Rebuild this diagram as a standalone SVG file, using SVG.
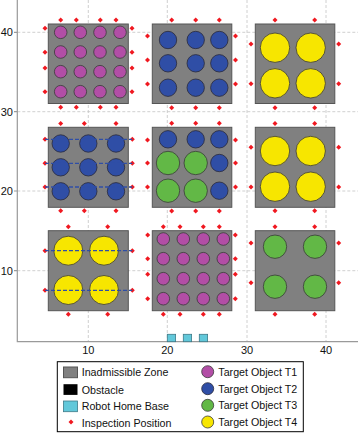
<svg xmlns="http://www.w3.org/2000/svg" xmlns:xlink="http://www.w3.org/1999/xlink" width="358" height="435" viewBox="0 0 358 435">
<style>
.grid{stroke:#c4c4c4;stroke-width:0.8;stroke-dasharray:3 2;fill:none}
.axis{stroke:#9a9a9a;stroke-width:1.2;fill:none}
.zone{fill:#808080;stroke:#555;stroke-width:1}
.t1{fill:#b24ea6;stroke:#3a3a3a;stroke-width:0.8}
.t2{fill:#2f4ea6;stroke:#2a2a3a;stroke-width:0.8}
.t3{fill:#62b846;stroke:#3a3a3a;stroke-width:0.8}
.t4{fill:#f7e600;stroke:#3a3a3a;stroke-width:0.8}
.path{stroke:#2f4ea6;stroke-width:1.3;stroke-dasharray:4 2;fill:none}
.home{fill:#62c8da;stroke:#3d7a88;stroke-width:0.8}
.tick{font-family:"Liberation Sans",Arial,sans-serif;font-size:11px;fill:#111}
.leg{font-family:"Liberation Sans",Arial,sans-serif;font-size:10.7px;fill:#111}
</style>
<defs>
<path id="ip" d="M0,-2.5 L2.5,0 L0,2.5 L-2.5,0Z" fill="#f01820"/>
</defs>
<rect width="358" height="435" fill="#fff"/>
<g id="axes">
<path class="grid" d="M88.3,0V341.7M167.3,0V341.7M247,0V341.7M326,0V341.7M17.3,32.3H358M17.3,111.7H358M17.3,191H358M17.3,270.7H358"/>
<path class="axis" d="M17.3,0V341.7H358"/>
<path class="axis" d="M14,32.3H17.3M14,111.7H17.3M14,191H17.3M14,270.7H17.3"/>
<text class="tick" x="13" y="36.3" text-anchor="end">40</text>
<text class="tick" x="13" y="115.7" text-anchor="end">30</text>
<text class="tick" x="13" y="195" text-anchor="end">20</text>
<text class="tick" x="13" y="274.7" text-anchor="end">10</text>
<text class="tick" x="88.3" y="353.5" text-anchor="middle">10</text>
<text class="tick" x="167.3" y="353.5" text-anchor="middle">20</text>
<text class="tick" x="247" y="353.5" text-anchor="middle">30</text>
<text class="tick" x="326" y="353.5" text-anchor="middle">40</text>
</g>
<g id="zone1">
<rect class="zone" x="48.3" y="24" width="80" height="79.5"/>
<circle class="t1" cx="60.7" cy="32.3" r="6.3"/><circle class="t1" cx="80.3" cy="32.3" r="6.3"/><circle class="t1" cx="100" cy="32.3" r="6.3"/><circle class="t1" cx="120" cy="32.3" r="6.3"/>
<circle class="t1" cx="60.7" cy="52" r="6.3"/><circle class="t1" cx="80.3" cy="52" r="6.3"/><circle class="t1" cx="100" cy="52" r="6.3"/><circle class="t1" cx="120" cy="52" r="6.3"/>
<circle class="t1" cx="60.7" cy="71.7" r="6.3"/><circle class="t1" cx="80.3" cy="71.7" r="6.3"/><circle class="t1" cx="100" cy="71.7" r="6.3"/><circle class="t1" cx="120" cy="71.7" r="6.3"/>
<circle class="t1" cx="60.7" cy="91.7" r="6.3"/><circle class="t1" cx="80.3" cy="91.7" r="6.3"/><circle class="t1" cx="100" cy="91.7" r="6.3"/><circle class="t1" cx="120" cy="91.7" r="6.3"/>
<use xlink:href="#ip" x="60.7" y="20"/><use xlink:href="#ip" x="76.3" y="20"/><use xlink:href="#ip" x="100.3" y="20"/><use xlink:href="#ip" x="116" y="20"/>
<use xlink:href="#ip" x="60.7" y="107.3"/><use xlink:href="#ip" x="76.3" y="107.3"/><use xlink:href="#ip" x="100.3" y="107.3"/><use xlink:href="#ip" x="116" y="107.3"/>
<use xlink:href="#ip" x="45" y="28.3"/><use xlink:href="#ip" x="45" y="52.3"/><use xlink:href="#ip" x="45" y="68"/><use xlink:href="#ip" x="45" y="91.7"/>
<use xlink:href="#ip" x="132" y="28.3"/><use xlink:href="#ip" x="132" y="52.3"/><use xlink:href="#ip" x="132" y="68"/><use xlink:href="#ip" x="132" y="91.7"/>
</g>
<g id="zone2">
<rect class="zone" x="152.3" y="24" width="79.5" height="79.5"/>
<circle class="t2" cx="168" cy="40" r="8.7"/><circle class="t2" cx="195.7" cy="40" r="8.7"/><circle class="t2" cx="219.3" cy="40" r="8.7"/>
<circle class="t2" cx="168" cy="63.3" r="8.7"/><circle class="t2" cx="195.7" cy="63.3" r="8.7"/><circle class="t2" cx="219.3" cy="63.3" r="8.7"/>
<circle class="t2" cx="168" cy="87.7" r="8.7"/><circle class="t2" cx="195.7" cy="87.7" r="8.7"/><circle class="t2" cx="219.3" cy="87.7" r="8.7"/>
<use xlink:href="#ip" x="171.7" y="20"/><use xlink:href="#ip" x="195.7" y="20"/><use xlink:href="#ip" x="219.3" y="20"/>
<use xlink:href="#ip" x="171.7" y="107.7"/><use xlink:href="#ip" x="195.7" y="107.7"/><use xlink:href="#ip" x="219.3" y="107.7"/>
<use xlink:href="#ip" x="147.5" y="36"/><use xlink:href="#ip" x="147.5" y="60"/><use xlink:href="#ip" x="147.5" y="84"/>
<use xlink:href="#ip" x="235.5" y="36"/><use xlink:href="#ip" x="235.5" y="60"/><use xlink:href="#ip" x="235.5" y="84"/>
</g>
<g id="zone3">
<rect class="zone" x="255.3" y="24" width="79.5" height="79.5"/>
<circle class="t4" cx="275" cy="47.7" r="14.7"/><circle class="t4" cx="310.7" cy="47.7" r="14.7"/>
<circle class="t4" cx="275" cy="83.3" r="14.7"/><circle class="t4" cx="310.7" cy="83.3" r="14.7"/>
<use xlink:href="#ip" x="275" y="20"/><use xlink:href="#ip" x="314.7" y="20"/>
<use xlink:href="#ip" x="275" y="107.7"/><use xlink:href="#ip" x="314.7" y="107.7"/>
<use xlink:href="#ip" x="251" y="44"/><use xlink:href="#ip" x="251" y="83.7"/>
<use xlink:href="#ip" x="338.7" y="44"/><use xlink:href="#ip" x="338.7" y="83.7"/>
</g>
<g id="zone4">
<rect class="zone" x="48.3" y="127.3" width="80" height="80"/>
<circle class="t2" cx="60.7" cy="143.5" r="8.7"/><circle class="t2" cx="88.3" cy="143.5" r="8.7"/><circle class="t2" cx="116" cy="143.5" r="8.7"/>
<circle class="t2" cx="60.7" cy="167.3" r="8.7"/><circle class="t2" cx="88.3" cy="167.3" r="8.7"/><circle class="t2" cx="116" cy="167.3" r="8.7"/>
<circle class="t2" cx="60.7" cy="191.3" r="8.7"/><circle class="t2" cx="88.3" cy="191.3" r="8.7"/><circle class="t2" cx="116" cy="191.3" r="8.7"/>
<use xlink:href="#ip" x="60.7" y="123.5"/><use xlink:href="#ip" x="84.3" y="123.5"/><use xlink:href="#ip" x="116" y="123.5"/>
<use xlink:href="#ip" x="60.7" y="210.7"/><use xlink:href="#ip" x="84.3" y="210.7"/><use xlink:href="#ip" x="116" y="210.7"/>
<use xlink:href="#ip" x="45" y="139.3"/><use xlink:href="#ip" x="45" y="163.3"/><use xlink:href="#ip" x="45" y="187"/>
<use xlink:href="#ip" x="132.3" y="139.3"/><use xlink:href="#ip" x="132.3" y="163.3"/><use xlink:href="#ip" x="132.3" y="187"/>
</g>
<g id="zone5">
<rect class="zone" x="152.3" y="127.3" width="79.5" height="80"/>
<circle class="t2" cx="168" cy="139.3" r="8.7"/><circle class="t2" cx="195.7" cy="139.3" r="8.7"/><circle class="t2" cx="219.3" cy="139.3" r="8.7"/>
<circle class="t2" cx="219.3" cy="163" r="8.7"/><circle class="t2" cx="219.3" cy="190.7" r="8.7"/>
<circle class="t3" cx="168" cy="163" r="11.7"/><circle class="t3" cx="195.7" cy="163" r="11.7"/>
<circle class="t3" cx="168" cy="190.7" r="11.7"/><circle class="t3" cx="195.7" cy="190.7" r="11.7"/>
<use xlink:href="#ip" x="171.7" y="123.3"/><use xlink:href="#ip" x="195.7" y="123.3"/><use xlink:href="#ip" x="219.3" y="123.3"/>
<use xlink:href="#ip" x="171.7" y="211"/><use xlink:href="#ip" x="195.7" y="211"/><use xlink:href="#ip" x="219.3" y="211"/>
<use xlink:href="#ip" x="147.5" y="140"/><use xlink:href="#ip" x="147.5" y="163"/><use xlink:href="#ip" x="147.5" y="187"/>
<use xlink:href="#ip" x="235.5" y="140"/><use xlink:href="#ip" x="235.5" y="163"/><use xlink:href="#ip" x="235.5" y="187"/>
</g>
<g id="zone6">
<rect class="zone" x="255.3" y="127.3" width="79.5" height="80"/>
<circle class="t4" cx="275" cy="151" r="14.7"/><circle class="t4" cx="310.7" cy="151" r="14.7"/>
<circle class="t4" cx="275" cy="186.7" r="14.7"/><circle class="t4" cx="310.7" cy="186.7" r="14.7"/>
<use xlink:href="#ip" x="275" y="123.5"/><use xlink:href="#ip" x="314.7" y="123.5"/>
<use xlink:href="#ip" x="275" y="210.7"/><use xlink:href="#ip" x="314.7" y="210.7"/>
<use xlink:href="#ip" x="251" y="147.3"/><use xlink:href="#ip" x="251" y="187"/>
<use xlink:href="#ip" x="338.7" y="147.3"/><use xlink:href="#ip" x="338.7" y="187"/>
</g>
<g id="zone7">
<rect class="zone" x="48.3" y="230.7" width="80" height="80"/>
<circle class="t4" cx="68.3" cy="250.7" r="14.5"/><circle class="t4" cx="104" cy="250.7" r="14.5"/>
<circle class="t4" cx="68.3" cy="290" r="14.5"/><circle class="t4" cx="104" cy="290" r="14.5"/>
<use xlink:href="#ip" x="68.3" y="226.7"/><use xlink:href="#ip" x="107.7" y="226.7"/>
<use xlink:href="#ip" x="68.3" y="314.3"/><use xlink:href="#ip" x="107.7" y="314.3"/>
<use xlink:href="#ip" x="45" y="250.7"/><use xlink:href="#ip" x="45" y="290.3"/>
<use xlink:href="#ip" x="132.3" y="250.7"/><use xlink:href="#ip" x="132.3" y="290.3"/>
</g>
<g id="zone8">
<rect class="zone" x="152.3" y="230.7" width="79.5" height="80"/>
<circle class="t1" cx="163.3" cy="239" r="6.3"/><circle class="t1" cx="183.3" cy="239" r="6.3"/><circle class="t1" cx="203.3" cy="239" r="6.3"/><circle class="t1" cx="223.3" cy="239" r="6.3"/>
<circle class="t1" cx="163.3" cy="258.7" r="6.3"/><circle class="t1" cx="183.3" cy="258.7" r="6.3"/><circle class="t1" cx="203.3" cy="258.7" r="6.3"/><circle class="t1" cx="223.3" cy="258.7" r="6.3"/>
<circle class="t1" cx="163.3" cy="278.7" r="6.3"/><circle class="t1" cx="183.3" cy="278.7" r="6.3"/><circle class="t1" cx="203.3" cy="278.7" r="6.3"/><circle class="t1" cx="223.3" cy="278.7" r="6.3"/>
<circle class="t1" cx="163.3" cy="298.7" r="6.3"/><circle class="t1" cx="183.3" cy="298.7" r="6.3"/><circle class="t1" cx="203.3" cy="298.7" r="6.3"/><circle class="t1" cx="223.3" cy="298.7" r="6.3"/>
<use xlink:href="#ip" x="163.3" y="226.7"/><use xlink:href="#ip" x="180" y="226.7"/><use xlink:href="#ip" x="203.3" y="226.7"/><use xlink:href="#ip" x="219.3" y="226.7"/>
<use xlink:href="#ip" x="163.3" y="314.3"/><use xlink:href="#ip" x="180" y="314.3"/><use xlink:href="#ip" x="203.3" y="314.3"/><use xlink:href="#ip" x="219.3" y="314.3"/>
<use xlink:href="#ip" x="147.7" y="235"/><use xlink:href="#ip" x="147.7" y="258.7"/><use xlink:href="#ip" x="147.7" y="274.3"/><use xlink:href="#ip" x="147.7" y="298.7"/>
<use xlink:href="#ip" x="235.3" y="235"/><use xlink:href="#ip" x="235.3" y="258.7"/><use xlink:href="#ip" x="235.3" y="274.3"/><use xlink:href="#ip" x="235.3" y="298.7"/>
</g>
<g id="zone9">
<rect class="zone" x="255.3" y="230.7" width="79.5" height="80"/>
<circle class="t3" cx="275" cy="246.7" r="11.7"/><circle class="t3" cx="315" cy="246.7" r="11.7"/>
<circle class="t3" cx="275" cy="286.7" r="11.7"/><circle class="t3" cx="315" cy="286.7" r="11.7"/>
<use xlink:href="#ip" x="275" y="226.7"/><use xlink:href="#ip" x="314.7" y="226.7"/>
<use xlink:href="#ip" x="275" y="314.3"/><use xlink:href="#ip" x="314.7" y="314.3"/>
<use xlink:href="#ip" x="251" y="243"/><use xlink:href="#ip" x="251" y="282.7"/>
<use xlink:href="#ip" x="338.7" y="243"/><use xlink:href="#ip" x="338.7" y="282.7"/>
</g>
<g id="connectors">
<path class="path" d="M45,139.3H132.3M45,163.3H132.3M45,187H132.3"/>
<path class="path" d="M45,250.7H132.3M45,290.3H132.3"/>
</g>
<g id="homebase">
<rect class="home" x="167.3" y="334.3" width="8.3" height="7.4"/>
<rect class="home" x="183.3" y="334.3" width="8.3" height="7.4"/>
<rect class="home" x="199.3" y="334.3" width="8.3" height="7.4"/>
</g>
<g id="legend">
<rect x="57.3" y="361.7" width="246" height="70" fill="#fff" stroke="#000" stroke-width="1"/>
<rect class="zone" x="63.5" y="367" width="14" height="10.7"/>
<rect x="63.5" y="384.2" width="14" height="10.7" fill="#000"/>
<rect class="home" x="63.5" y="401" width="14" height="10.7"/>
<use xlink:href="#ip" x="71" y="422"/>
<text class="leg" x="81.7" y="376">Inadmissible Zone</text>
<text class="leg" x="81.7" y="393.5">Obstacle</text>
<text class="leg" x="81.7" y="410.3">Robot Home Base</text>
<text class="leg" x="81.7" y="427">Inspection Position</text>
<circle class="t1" cx="207.7" cy="371.7" r="6"/>
<circle class="t2" cx="207.7" cy="388.7" r="6"/>
<circle class="t3" cx="207.7" cy="405.3" r="6"/>
<circle class="t4" cx="207.7" cy="422" r="6"/>
<text class="leg" x="218.3" y="375.5">Target Object T1</text>
<text class="leg" x="218.3" y="392.5">Target Object T2</text>
<text class="leg" x="218.3" y="409">Target Object T3</text>
<text class="leg" x="218.3" y="425.8">Target Object T4</text>
</g>
</svg>
